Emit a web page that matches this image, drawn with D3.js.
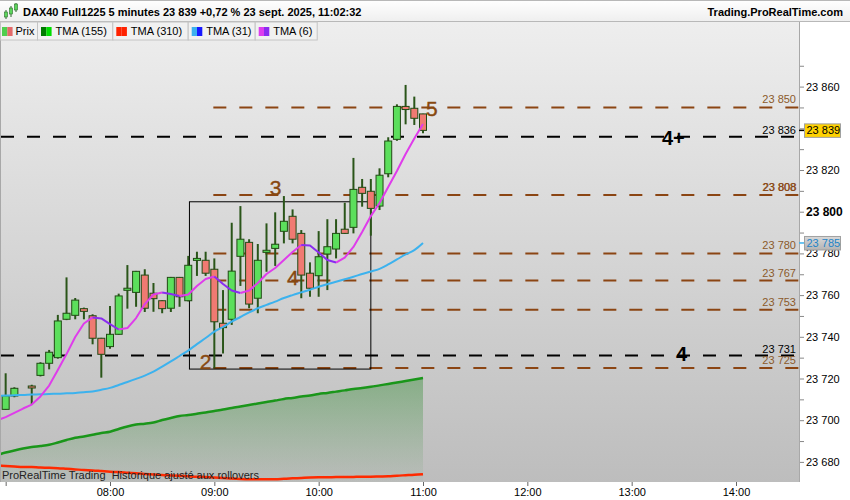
<!DOCTYPE html>
<html><head><meta charset="utf-8">
<script src="https://cdn.jsdelivr.net/npm/d3@7"></script>
<style>body{margin:0;background:#fff}svg{display:block;font-family:"Liberation Sans",Arial,sans-serif}</style>
</head><body><svg id="c" width="850" height="500"></svg>
<script>
// ---------- DATA ----------
const candleTimes = ["07:00","07:05","07:15","07:20","07:25","07:30","07:35","07:40","07:45","07:50",
 "07:55","08:00","08:05","08:10","08:15","08:20","08:25","08:30","08:35","08:40",
 "08:45","08:50","08:55","09:00","09:05","09:10","09:15","09:20","09:25","09:30",
 "09:35","09:40","09:45","09:50","09:55","10:00","10:05","10:10","10:15","10:20",
 "10:25","10:30","10:35","10:40","10:45","10:50","10:55","11:00"];
const opens = [23705.2,23711.6,23716.4,23721.5,23727.3,23730.0,23748.4,23750.3,23753.5,23750.1,
 23739.3,23735.3,23741.2,23762.3,23761.3,23769.6,23760.9,23757.3,23753.7,23768.5,
 23757.3,23776.7,23776.7,23772.4,23746.5,23748.4,23778.6,23785.3,23758.5,23780.5,
 23782.4,23790.6,23797.8,23789.6,23770.5,23769.3,23779.7,23782.1,23791.6,23792.5,
 23811.7,23809.8,23802.7,23818.2,23834.7,23850.5,23849.6,23846.9];
const highs = [23722.5,23715.8,23717.0,23727.8,23733.7,23750.5,23768.5,23758.6,23754.0,23750.8,
 23739.5,23754.8,23760.7,23774.4,23771.6,23772.4,23765.8,23757.5,23768.7,23768.7,
 23778.8,23780.8,23780.8,23777.6,23762.4,23794.7,23802.7,23786.8,23784.5,23794.4,
 23799.7,23807.5,23801.1,23791.2,23775.7,23790.7,23796.4,23796.4,23804.3,23825.8,
 23815.7,23815.7,23820.8,23835.7,23851.5,23860.8,23855.2,23847.0];
const lows = [23705.0,23711.0,23707.3,23721.0,23724.4,23729.5,23748.0,23748.4,23748.4,23736.4,
 23720.4,23734.3,23741.0,23753.5,23754.4,23751.9,23752.0,23751.3,23751.9,23754.4,
 23757.0,23769.2,23769.2,23724.9,23732.0,23745.7,23764.4,23753.7,23751.3,23771.2,
 23774.0,23784.8,23784.8,23758.5,23759.2,23759.2,23762.4,23777.6,23789.3,23789.6,
 23802.4,23788.5,23800.8,23816.5,23834.0,23841.9,23841.6,23837.6];
const closes = [23711.7,23715.3,23715.6,23727.3,23732.6,23747.6,23751.3,23757.6,23752.2,23739.3,
 23731.6,23741.2,23759.6,23763.3,23771.4,23753.7,23758.3,23753.5,23768.5,23759.2,
 23774.3,23777.6,23770.5,23747.2,23744.4,23771.5,23786.8,23755.7,23776.7,23781.5,
 23784.4,23795.4,23786.8,23769.6,23763.3,23778.4,23783.2,23789.6,23789.6,23810.7,
 23808.8,23801.6,23817.5,23833.9,23850.5,23849.0,23844.8,23839.0];

const lineTimes = ["06:55","07:00","07:05","07:10","07:15","07:20","07:25","07:30","07:35","07:40",
 "07:45","07:50","07:55","08:00","08:05","08:10","08:15","08:20","08:25","08:30",
 "08:35","08:40","08:45","08:50","08:55","09:00","09:05","09:10","09:15","09:20",
 "09:25","09:30","09:35","09:40","09:45","09:50","09:55","10:00","10:05","10:10",
 "10:15","10:20","10:25","10:30","10:35","10:40","10:45","10:50","10:55","11:00"];
const tma155 = [23683.3,23684.5,23685.5,23686.4,23687.1,23687.6,23688.2,23689.3,23690.5,23691.6,
 23692.2,23693.0,23693.9,23694.5,23695.8,23697.0,23697.9,23698.3,23698.9,23700.1,
 23701.1,23702.0,23702.5,23703.1,23703.7,23704.4,23705.1,23705.9,23706.6,23707.3,
 23708.0,23708.7,23709.4,23710.2,23710.7,23711.4,23711.9,23712.6,23713.1,23713.7,
 23714.3,23715.0,23715.4,23716.0,23716.7,23717.4,23718.1,23718.8,23719.5,23720.2];
const tma310 = [23678.2,23678.0,23677.8,23677.6,23677.5,23677.3,23677.2,23677.0,23676.7,23676.4,
 23676.1,23675.9,23675.6,23675.3,23675.1,23674.8,23674.5,23674.2,23674.0,23673.7,
 23673.5,23673.3,23673.1,23672.9,23672.8,23672.5,23672.3,23672.0,23671.8,23671.7,
 23671.7,23671.7,23671.7,23671.9,23672.1,23672.3,23672.5,23672.6,23672.6,23672.7,
 23672.7,23672.8,23672.9,23672.9,23673.0,23673.1,23673.4,23673.6,23673.8,23674.1];
const tma31 = [23711.7,23711.8,23712.0,23712.1,23712.3,23712.4,23712.6,23712.7,23712.9,23713.1,
 23713.4,23713.8,23714.6,23715.5,23716.9,23718.3,23719.8,23721.4,23723.3,23725.7,
 23728.2,23730.8,23733.4,23736.5,23739.4,23742.5,23744.7,23747.3,23749.5,23751.7,
 23753.7,23755.3,23756.9,23758.6,23760.0,23761.3,23762.6,23764.0,23765.2,23766.4,
 23767.6,23768.8,23770.1,23771.3,23772.6,23774.7,23777.1,23779.5,23781.6,23785.0];
const tma6 = [23699.9,23701.5,23703.5,23705.6,23707.5,23711.4,23716.6,23724.1,23731.7,23739.9,
 23746.4,23749.3,23748.8,23746.1,23743.5,23744.2,23749.0,23755.7,23760.3,23761.2,
 23760.5,23759.6,23760.3,23764.4,23767.7,23768.9,23765.3,23762.2,23761.0,23762.2,
 23765.8,23770.1,23773.0,23776.8,23780.7,23784.0,23783.8,23780.4,23776.8,23775.6,
 23778.0,23783.1,23790.3,23797.9,23804.2,23811.8,23819.5,23827.7,23835.1,23842.1];

const blackLevels = [23836, 23731];
const brownLevels = [23850, 23808, 23780, 23767, 23753, 23725];
const waveLabels = [
  {t:"2", time:"08:55", v:23725, dx:-6, dy:1}, {t:"3", time:"09:25", v:23808, dx:12, dy:0},
  {t:"4", time:"09:40", v:23765, dx:3, dy:0}, {t:"5", time:"11:00", v:23850, dx:3, dy:9}];
const boxRange = {t0:"08:50", t1:"10:30", v0:23725, v1:23805};
const lastPrice = 23839, tma31Last = 23785;
const hourTicks = ["07:00","08:00","09:00","10:00","11:00","12:00","13:00","14:00"];
const legendItems = [
  {name:"Prix", c:["#4fcf4f","#e36a6a"]},
  {name:"TMA (155)", c:["#007a00","#00dd00"]},
  {name:"TMA (310)", c:["#ff2200","#ff2200"]},
  {name:"TMA (31)", c:["#3cb0ef","#1818ff"]},
  {name:"TMA (6)", c:["#dd3cee","#8a2cf0"]}];

// ---------- SCALES ----------
const toMin = t => { const p = t.split(":").map(Number); return p[0]*60+p[1]; };
const x = d3.scaleLinear().domain([480, 660]).range([110, 423]);
const y = d3.scaleLinear().domain([23680, 23860]).range([461.9, 86.6]);
const fmt = d => { const s = String(Math.round(d)); return s.slice(0, s.length-3) + " " + s.slice(-3); };

const PL = 0, PR = 799, PT = 22, PB = 482;
const svg = d3.select("#c");
const defs = svg.append("defs");
const bg = defs.append("linearGradient").attr("id","bg").attr("x1",0).attr("y1",0).attr("x2",0).attr("y2",1);
bg.append("stop").attr("offset","0%").attr("stop-color","#eeeeee");
bg.append("stop").attr("offset","100%").attr("stop-color","#bdbdbd");
const gf = defs.append("linearGradient").attr("id","gf").attr("gradientUnits","userSpaceOnUse")
  .attr("x1",0).attr("y1",y(23720)).attr("x2",0).attr("y2",PB);
gf.append("stop").attr("offset","0%").attr("stop-color","#2e8a2e").attr("stop-opacity",0.42);
gf.append("stop").attr("offset","100%").attr("stop-color","#2e8a2e").attr("stop-opacity",0.02);
const hg = defs.append("linearGradient").attr("id","hg").attr("x1",0).attr("y1",0).attr("x2",0).attr("y2",1);
hg.append("stop").attr("offset","0%").attr("stop-color","#ffffff");
hg.append("stop").attr("offset","100%").attr("stop-color","#efefef");
const bb = defs.append("linearGradient").attr("id","bb").attr("x1",0).attr("y1",0).attr("x2",0).attr("y2",1);
bb.append("stop").attr("offset","0%").attr("stop-color","#d8d8d8");
bb.append("stop").attr("offset","100%").attr("stop-color","#b4b4b4");
defs.append("clipPath").attr("id","clip").append("rect")
  .attr("x",PL+1).attr("y",PT).attr("width",PR-PL-1).attr("height",PB-PT);

svg.append("rect").attr("width",850).attr("height",500).attr("fill","#fff");
svg.append("rect").attr("x",PL).attr("y",PT).attr("width",PR-PL).attr("height",PB-PT).attr("fill","url(#bg)");
svg.append("line").attr("x1",0.5).attr("x2",0.5).attr("y1",PT).attr("y2",PB).attr("stroke","#a8a8a8");

const plot = svg.append("g").attr("clip-path","url(#clip)");
const lt = lineTimes.map(toMin);

// green area under TMA155
plot.append("path").datum(tma155)
  .attr("d", d3.area().x((d,i)=>x(lt[i])).y0(PB).y1(d=>y(d)))
  .attr("fill","url(#gf)");
const line = d3.line().x((d,i)=>x(lt[i])).y(d=>y(d)).curve(d3.curveMonotoneX);
plot.append("path").datum(tma310).attr("d",line).attr("fill","none").attr("stroke","#ff2a00").attr("stroke-width",2.5);
plot.append("path").datum(tma155).attr("d",line).attr("fill","none").attr("stroke","#1a961a").attr("stroke-width",2.5);

// level lines
brownLevels.forEach(v=>{
  plot.append("line").attr("x1",x(toMin("09:00"))-1).attr("x2",PR).attr("y1",y(v)).attr("y2",y(v))
    .attr("stroke","#8b4513").attr("stroke-width",2).attr("stroke-dasharray","13,13");
});
blackLevels.forEach(v=>{
  plot.append("line").attr("x1",1).attr("x2",PR-5).attr("y1",y(v)).attr("y2",y(v))
    .attr("stroke","#000").attr("stroke-width",2).attr("stroke-dasharray","13,13");
});

// rectangle
plot.append("rect")
  .attr("x", x(toMin(boxRange.t0))-7.5).attr("y", y(boxRange.v1)+0.5)
  .attr("width", x(toMin(boxRange.t1)) - x(toMin(boxRange.t0)) + 7.5)
  .attr("height", y(boxRange.v0) - y(boxRange.v1) + 0.5)
  .attr("fill","none").attr("stroke","#000").attr("stroke-width",1);

// candles
const cg = plot.append("g");
candleTimes.forEach((t,i)=>{
  const cx = x(toMin(t)), o = opens[i], c = closes[i], up = c >= o;
  cg.append("line").attr("x1",cx).attr("x2",cx).attr("y1",y(highs[i])).attr("y2",y(lows[i]))
    .attr("stroke","#2a5519").attr("stroke-width",2);
  const top = y(Math.max(o,c)), h = Math.max(2, Math.abs(y(o)-y(c)));
  cg.append("rect").attr("x",cx-3.5).attr("y",top).attr("width",7).attr("height",h)
    .attr("fill", up ? "#5cdf5c" : "#f07a72").attr("stroke","#214a14").attr("stroke-width",1);
});

// TMA31 and TMA6 with slope colouring
plot.append("path").datum(tma31).attr("d",line).attr("fill","none").attr("stroke","#3cb2ee").attr("stroke-width",2);
function runs(arr){
  const out=[]; let cur=null;
  for(let i=1;i<arr.length;i++){
    const up = arr[i] >= arr[i-1];
    if(!cur || cur.up!==up){ cur={up, idx:[i-1]}; out.push(cur); }
    cur.idx.push(i);
  }
  return out;
}
const segLine = d3.line().x(i=>x(lt[i])).y(i=>y(tma6[i]));
runs(tma6).forEach(r=>{
  plot.append("path").datum(r.idx).attr("d",segLine).attr("fill","none")
    .attr("stroke", r.up ? "#df3ceb" : "#8a2cf0").attr("stroke-width",2).attr("stroke-linejoin","round");
});

// wave labels
waveLabels.forEach(w=>{
  plot.append("text").attr("x", x(toMin(w.time)) + w.dx).attr("y", y(w.v) + w.dy)
    .attr("font-size",21).attr("fill","#874810").attr("stroke","#874810").attr("stroke-width",0.4).text(w.t);
});
svg.append("text").attr("x",662).attr("y",y(23836)+8).attr("font-size",20).attr("font-weight","bold").attr("fill","#000").text("4+");
svg.append("text").attr("x",676).attr("y",y(23731)+5).attr("font-size",20).attr("font-weight","bold").attr("fill","#000").text("4");

// level value labels
brownLevels.forEach(v=>{
  svg.append("text").attr("x",796).attr("y",y(v)-4).attr("text-anchor","end")
    .attr("font-size",11).attr("fill","#8b5a2b").text(fmt(v));
  if(v===23808){
    svg.append("text").attr("x",796.6).attr("y",y(v)-4).attr("text-anchor","end")
      .attr("font-size",11).attr("fill","#8b4513").text(fmt(v));
  }
});
blackLevels.forEach(v=>{
  svg.append("text").attr("x",796).attr("y",y(v)-3).attr("text-anchor","end")
    .attr("font-size",11).attr("fill","#000").text(fmt(v));
});

// right axis
svg.append("rect").attr("x",PR).attr("y",PT).attr("width",850-PR).attr("height",PB-PT).attr("fill","#fff");
const ya = svg.append("g").attr("transform",`translate(${PR},0)`)
  .call(d3.axisRight(y).tickValues(d3.range(23680, 23871, 10)).tickSize(5).tickPadding(2)
    .tickFormat(d => (d%20===0 && d!==23840) ? fmt(d) : ""));
ya.select(".domain").remove();
ya.selectAll(".tick line").attr("stroke","#888");
ya.selectAll(".tick text").attr("font-size",11).attr("fill","#000").attr("font-family","Liberation Sans, Arial, sans-serif");
ya.selectAll(".tick text").filter(d=>d===23800).attr("font-weight","bold").attr("font-size",12);
svg.append("line").attr("x1",PR+0.5).attr("x2",PR+0.5).attr("y1",PT).attr("y2",PB).attr("stroke","#a8a8a8");

// price boxes
function priceBox(v, fill, txt, tick){
  const yy = y(v);
  svg.append("line").attr("x1",PR).attr("x2",PR+5).attr("y1",yy).attr("y2",yy).attr("stroke",tick).attr("stroke-width",1.5);
  svg.append("rect").attr("x",804.5).attr("y",yy-6.5).attr("width",36).attr("height",13.5)
    .attr("fill",fill).attr("stroke","#a0a0a0");
  svg.append("text").attr("x",806.5).attr("y",yy+4).attr("font-size",11).attr("fill",txt).text(fmt(v));
}
priceBox(tma31Last, "url(#bb)", "#1e84c8", "#3cb2ee");
priceBox(lastPrice, "#ffd200", "#000", "#000");

// x axis
const xa = svg.append("g").attr("transform",`translate(0,${PB})`)
  .call(d3.axisBottom(x).tickValues(hourTicks.map(toMin)).tickSize(4).tickPadding(2)
    .tickFormat(d => d===420 ? "" : hourTicks[hourTicks.map(toMin).indexOf(d)]));
xa.select(".domain").remove();
xa.selectAll(".tick line").attr("stroke","#666");
xa.selectAll(".tick text").attr("font-size",11).attr("fill","#000").attr("font-family","Liberation Sans, Arial, sans-serif");

svg.append("text").attr("x",2).attr("y",479).attr("font-size",11).attr("fill","#222")
  .style("white-space","pre").text("ProRealTime Trading  Historique ajusté aux rollovers");

// header
svg.append("rect").attr("x",0).attr("y",0).attr("width",850).attr("height",21).attr("fill","url(#hg)");
svg.append("line").attr("x1",0).attr("x2",850).attr("y1",0.5).attr("y2",0.5).attr("stroke","#b8b8b8");
svg.append("line").attr("x1",0).attr("x2",850).attr("y1",21.5).attr("y2",21.5).attr("stroke","#b8b8b8");
[[6,12,17,10,19],[11,8,14,6,17],[16,4,10,3,12]].forEach(c=>{
  svg.append("line").attr("x1",c[0]).attr("x2",c[0]).attr("y1",c[3]).attr("y2",c[4]).attr("stroke","#2a6a2a").attr("stroke-width",1);
  svg.append("rect").attr("x",c[0]-1.5).attr("y",c[1]).attr("width",3).attr("height",c[2]-c[1]).attr("fill","#5cd65c").attr("stroke","#2a6a2a").attr("stroke-width",0.6);
});
svg.append("text").attr("x",23).attr("y",16).attr("font-size",11).attr("font-weight","bold").attr("fill","#000")
  .text("DAX40 Full1225 5 minutes 23 839 +0,72 % 23 sept. 2025, 11:02:32");
svg.append("text").attr("x",843).attr("y",16).attr("text-anchor","end").attr("font-size",11).attr("font-weight","bold").attr("fill","#000")
  .text("Trading.ProRealTime.com");

// legend
const lg = svg.append("g");
let lx = 0;
const widths = [37, 75.3, 75.4, 67, 62];
legendItems.forEach((it,i)=>{
  const w = widths[i];
  lg.append("rect").attr("x",lx+0.5).attr("y",22).attr("width",w).attr("height",18).attr("fill","#f1f1f1").attr("stroke","#c4c4c4");
  const sx = lx + (i===0?2:4);
  lg.append("rect").attr("x",sx).attr("y",27).attr("width",5.3).attr("height",9).attr("fill",it.c[0]);
  lg.append("rect").attr("x",sx+5.3).attr("y",27).attr("width",5.3).attr("height",9).attr("fill",it.c[1]);
  lg.append("text").attr("x",sx+(i===0?13.5:14.5)).attr("y",35).attr("font-size",11).attr("fill","#000").text(it.name);
  lx += w;
});
</script></body></html>
